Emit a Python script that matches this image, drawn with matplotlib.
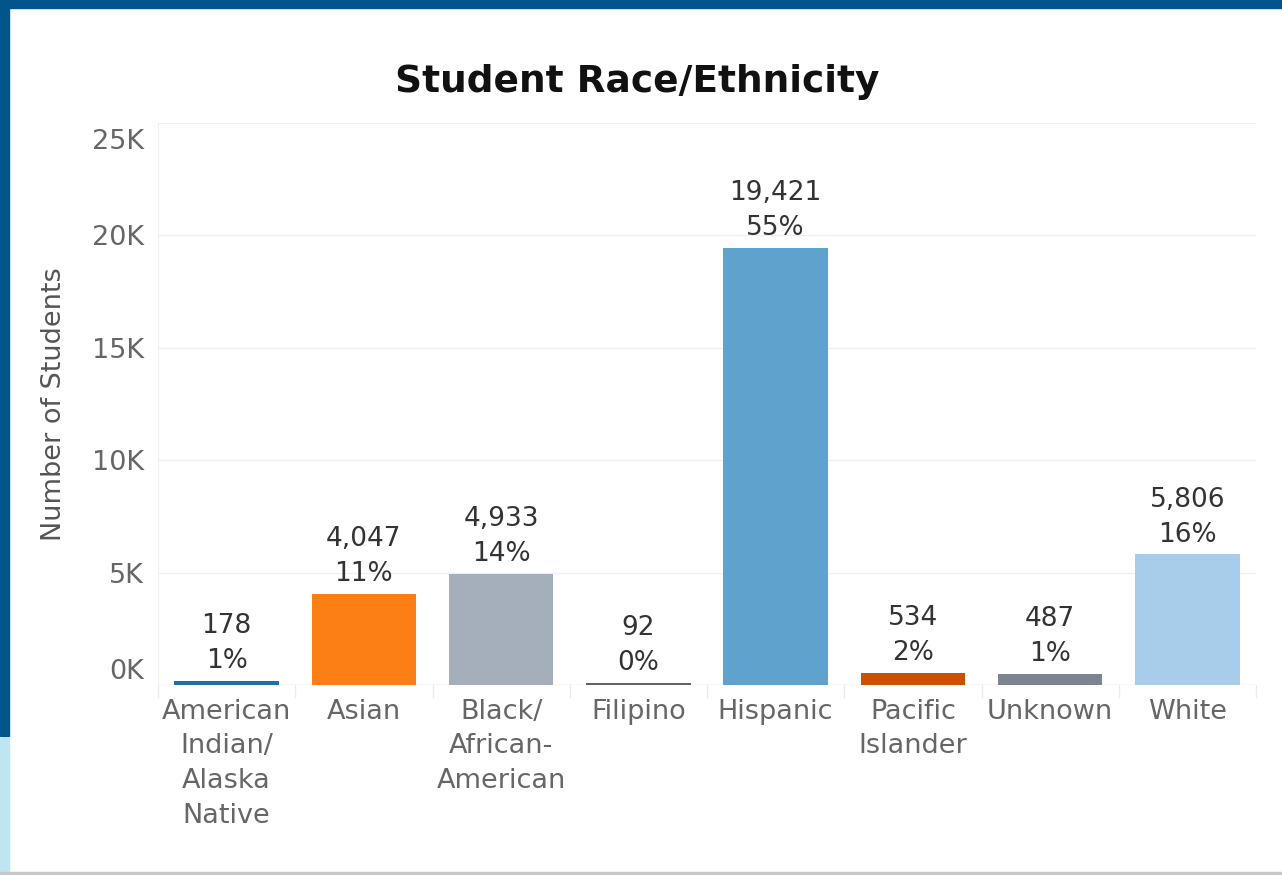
"""Student race/ethnicity bar chart."""

import matplotlib
matplotlib.use("Agg")
import matplotlib.pyplot as plt
from matplotlib.patches import Rectangle
from matplotlib.ticker import FuncFormatter
from matplotlib.transforms import ScaledTranslation

categories = ["American\nIndian/\nAlaska\nNative", "Asian", "Black/\nAfrican-\nAmerican",
              "Filipino", "Hispanic", "Pacific\nIslander", "Unknown", "White"]
students = [178, 4047, 4933, 92, 19421, 534, 487, 5806]
percents = ["1%", "11%", "14%", "0%", "55%", "2%", "1%", "16%"]
colors = ["#1F6FAA", "#FC7F16", "#A5AFBB", "#5B636D", "#5FA2CE", "#C85200", "#7B848F", "#A8CDEA"]
yticks = [0, 5000, 10000, 15000, 20000, 25000]

plt.rcParams["font.family"] = ["DejaVu Sans"]

fig = plt.figure(figsize=(12.82, 8.75), dpi=100)
W, H = 1282, 875

# window frame
fig.patches.append(Rectangle((0, 1 - 8 / H), 1, 8 / H, transform=fig.transFigure,
                             color="#00558C", zorder=0))
fig.patches.append(Rectangle((0, 1 - 736 / H), 9 / W, 736 / H, transform=fig.transFigure,
                             color="#00558C", zorder=0))
fig.patches.append(Rectangle((0, 3 / H), 9 / W, (H - 738 - 3) / H, transform=fig.transFigure,
                             color="#BDE6F2", zorder=0))
fig.patches.append(Rectangle((0, 0), 1, 3 / H, transform=fig.transFigure,
                             color="#C8C8C8", zorder=0))

ax = fig.add_axes([158 / W, 1 - 685 / H, (1256 - 158) / W, (685 - 123) / H])
x = range(len(categories))
ax.bar(x, students, width=0.76, color=colors, zorder=2)
ax.set_xlim(-0.5, len(categories) - 0.5)
ax.set_ylim(0, 25000)
ax.set_yticks(yticks)
ax.yaxis.set_major_formatter(FuncFormatter(lambda v, p: f"{int(v / 1000)}K"))
ax.set_xticks(list(x))
ax.set_xticklabels(categories, linespacing=1.43)
ax.tick_params(axis="both", length=0, labelsize=19.5, colors="#666666")
ax.tick_params(axis="x", pad=10)
ax.tick_params(axis="y", pad=10)
ax.grid(axis="y", color="#F0F0F0", linewidth=1, zorder=0)
for s in ["top", "right", "bottom"]:
    ax.spines[s].set_visible(False)
ax.spines["left"].set_color("#F0F0F0")
ax.axhline(0, color="#EBEBEB", linewidth=1, zorder=1)

# keep the end labels inside the pane, as Tableau does
ylabels = ax.get_yticklabels()
ylabels[0].set_verticalalignment("bottom")
ylabels[-1].set_verticalalignment("top")
ylabels[-1].set_transform(ylabels[-1].get_transform()
                          + ScaledTranslation(0, -6 / 100, fig.dpi_scale_trans))

# category separators under axis
for k in range(len(categories) + 1):
    ax.plot([k - 0.5, k - 0.5], [0, -0.022], transform=ax.get_xaxis_transform(),
            color="#EBEBEB", linewidth=1, clip_on=False)

for i, (v, p) in enumerate(zip(students, percents)):
    ax.annotate(f"{v:,}\n{p}", (i, v), xytext=(0, 5), textcoords="offset points",
                ha="center", va="bottom", fontsize=19, color="#333333", linespacing=1.45)

ax.set_ylabel("Number of Students", fontsize=19.5, color="#555555", labelpad=18)
fig.text(637 / W, 1 - 82 / H, "Student Race/Ethnicity", ha="center", va="center",
         fontsize=27, fontweight="bold", color="#111111")

fig.savefig("out.png", dpi=100)
